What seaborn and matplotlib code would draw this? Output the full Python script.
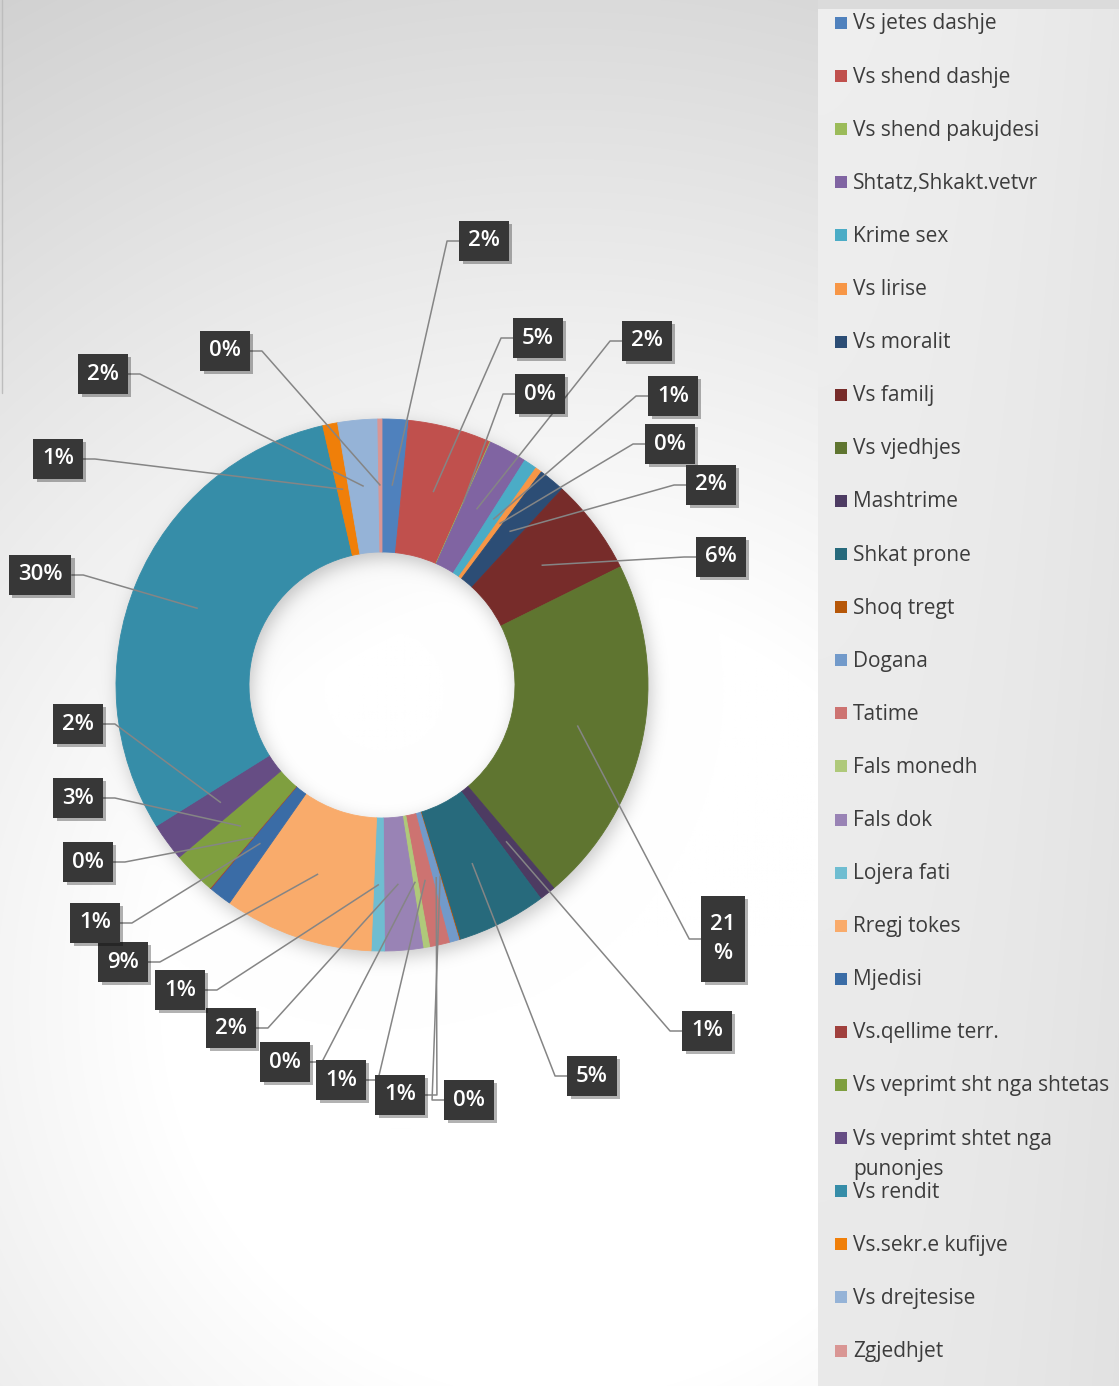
import numpy as np
import pandas as pd
import matplotlib
matplotlib.use("Agg")
import matplotlib.pyplot as plt
import matplotlib.patheffects as pe
from matplotlib.patches import Rectangle
import seaborn as sns

# ---------------- data ----------------
categories = [
    "Vs jetes dashje", "Vs shend dashje", "Vs shend pakujdesi", "Shtatz,Shkakt.vetvr",
    "Krime sex", "Vs lirise", "Vs moralit", "Vs familj", "Vs vjedhjes", "Mashtrime",
    "Shkat prone", "Shoq tregt", "Dogana", "Tatime", "Fals monedh", "Fals dok",
    "Lojera fati", "Rregj tokes", "Mjedisi", "Vs.qellime terr.",
    "Vs veprimt sht nga shtetas", "Vs veprimt shtet nga\npunonjes", "Vs rendit",
    "Vs.sekr.e kufijve", "Vs drejtesise", "Zgjedhjet",
]
values = [1.6, 5.0, 0.05, 2.3, 0.8, 0.4, 1.6, 5.8, 21.0, 1.0,
          5.4, 0.05, 0.6, 1.2, 0.4, 2.3, 0.8, 9.0, 1.4, 0.05,
          2.6, 2.3, 30.1, 0.9, 2.4, 0.25]
colors = ["#4F81BD", "#C0504D", "#9BBB59", "#8064A2", "#4BACC6", "#F79646",
          "#2C4D75", "#772C2A", "#5F7530", "#4D3B62", "#276A7C", "#B65708",
          "#729ACA", "#CD7371", "#AFC97A", "#9983B5", "#6FBDD1", "#F9AB6B",
          "#3A6CA6", "#A0403D", "#7F9F3F", "#664D84", "#368DA8", "#F07F09",
          "#95B3D7", "#D99694"]
wrapped_labels = {"Vs vjedhjes"}

# ---------------- layout (pixels, y down) ----------------
W, H = 1119, 1386
CX, CY, R, RIN = 382, 685, 266, 133
label_pos = [(484, 241), (538, 338), (540, 394), (647, 341), (673, 396), (670, 444),
             (711, 485), (721, 557), (723, 939), (707, 1031), (592, 1076), (469, 1100),
             (400, 1095), (341, 1080), (285, 1062), (231, 1028), (180, 990), (123, 962),
             (95, 923), (88, 862), (78, 798), (78, 724), (40, 575), (58, 459),
             (103, 374), (225, 351)]

df = pd.DataFrame({"category": categories, "value": values, "color": colors})
df["pct"] = df["value"] / df["value"].sum() * 100

sns.set_theme(style="white")
plt.rcParams["font.family"] = ["Open Sans", "DejaVu Sans"]
palette = sns.color_palette(df["color"].tolist())

fig = plt.figure(figsize=(W / 100, H / 100), dpi=100)
ax = fig.add_axes([0, 0, 1, 1])

# ---------------- background with soft shadow ----------------
yy, xx = np.mgrid[0:H, 0:W] + 0.5
d = np.hypot(xx - 560, yy - 1000)
bg = 1 - 0.18 * np.clip((d - 400) / 750, 0, 1.1)
panel = xx >= 818
pv = 0.935 - 0.02 * (yy / H) - 0.03 * ((xx - 818) / (W - 818)) ** 2
bg = np.where(panel, pv, bg)
bg = np.where(panel & (yy < 9), 0.86, bg)
rs = np.hypot(xx - (CX + 3), yy - (CY + 6))
mask = ((rs <= R) & (rs >= RIN)).astype(float)
fy = np.fft.fftfreq(H)[:, None]
fx = np.fft.rfftfreq(W)[None, :]
sig = 9.0
kern = np.exp(-2 * np.pi ** 2 * sig ** 2 * (fx ** 2 + fy ** 2))
blur = np.fft.irfft2(np.fft.rfft2(mask) * kern, s=(H, W))
bg = np.where(panel, bg, bg - 0.22 * np.clip(blur, 0, 1))
bg = np.clip(bg, 0, 1)
ax.imshow(np.dstack([bg, bg, bg]), extent=(0, W, 0, H), origin="upper",
          interpolation="bilinear", zorder=0)

ax.plot([2, 2], [H, H - 393], color="#BDBDBD", lw=1, zorder=1)

# ---------------- donut ----------------
wedges, _ = ax.pie(df["value"], colors=palette, startangle=90, counterclock=False,
                   radius=R, center=(CX, H - CY),
                   wedgeprops=dict(width=R - RIN, linewidth=0.6))
for w in wedges:
    w.set_zorder(2)
    w.set_edgecolor(w.get_facecolor())
ax.set_xlim(0, W)
ax.set_ylim(0, H)
ax.set_aspect("auto")
ax.axis("off")

# ---------------- data labels with leader lines ----------------
texts = []
for i, row in df.iterrows():
    txt = f"{row['pct']:.0f}%"
    if row["category"] in wrapped_labels:
        txt = txt[:-1] + "\n%"
    bx, by = label_pos[i]
    t = ax.text(bx, H - by, txt, ha="center", va="center", fontsize=16,
                fontweight="semibold", color="white", linespacing=1.5, zorder=6)
    texts.append(t)

fig.canvas.draw()
renderer = fig.canvas.get_renderer()
rmid = (R + RIN) / 2
shadow = [pe.SimplePatchShadow(offset=(2.5, -2.5), shadow_rgbFace="black", alpha=0.3),
          pe.Normal()]
for i, w in enumerate(wedges):
    bb = texts[i].get_window_extent(renderer)
    bx, by = label_pos[i]
    cxb, cyb = bx, H - by
    bw = bb.width + 18
    bh = 40 if "\n" not in texts[i].get_text() else bb.height + 36
    x0, x1, y0, y1 = cxb - bw / 2, cxb + bw / 2, cyb - bh / 2, cyb + bh / 2
    rect = Rectangle((x0, y0), bw, bh, facecolor="#373737", edgecolor="none", zorder=5)
    rect.set_path_effects(shadow)
    ax.add_patch(rect)

    ang = np.deg2rad((w.theta1 + w.theta2) / 2)
    axp, ayp = CX + rmid * np.cos(ang), (H - CY) + rmid * np.sin(ang)
    ym = (y0 + y1) / 2
    if axp < x0:
        pts = [(x0, ym), (x0 - 12, ym), (axp, ayp)]
    elif axp > x1:
        pts = [(x1, ym), (x1 + 12, ym), (axp, ayp)]
    else:
        xm = (x0 + x1) / 2
        ye = y1 if ayp > ym else y0
        pts = [(xm, ye), (axp, ayp)]
    px, py = zip(*pts)
    ax.plot(px, py, color="#858585", lw=1.1, zorder=4, solid_capstyle="butt")

# ---------------- legend (right panel) ----------------
step = 53.1
for i, row in df.iterrows():
    base = 29.5 + step * i
    ax.add_patch(Rectangle((835, H - base + 0.5), 12, 12, facecolor=palette[i],
                           edgecolor="none", zorder=5))
    for k, line in enumerate(row["category"].split("\n")):
        ax.text(853, H - (base + 30 * k), line, ha="left", va="baseline",
                fontsize=15, color="#3C3C3C", zorder=5)

fig.savefig("out.png", dpi=100)
